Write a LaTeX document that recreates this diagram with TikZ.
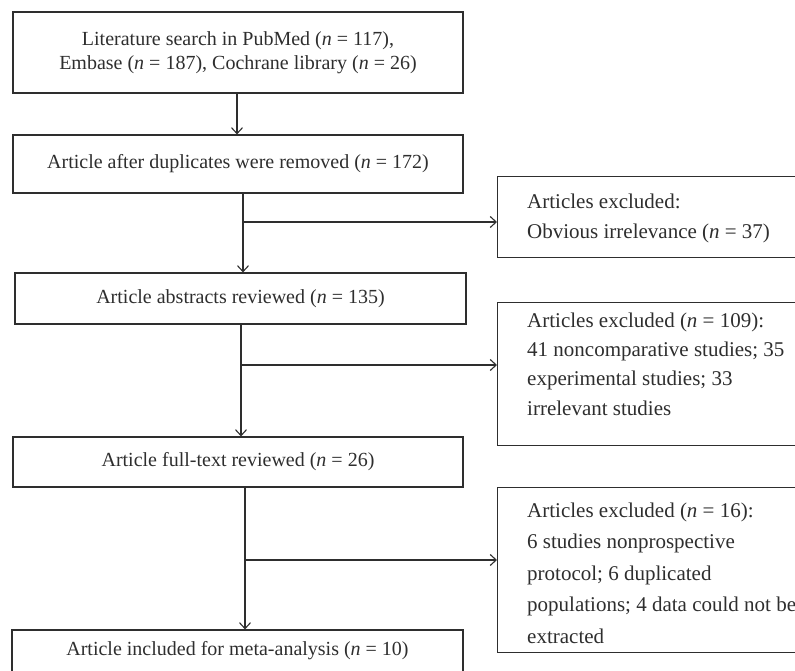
\documentclass[tikz,border=0pt]{standalone}
\usepackage{fontspec}
\setmainfont{Liberation Serif}
\usetikzlibrary{arrows.meta}
\definecolor{ink}{HTML}{2E2E2E}
\tikzset{
  every node/.style={font=\fontsize{20}{24}\selectfont, text=ink},
  box/.style={draw=ink, line width=1.1pt, inner sep=0pt, align=center, minimum width=450pt},
  exbox/.style={draw=ink, line width=1.1pt, inner sep=0pt, anchor=north west, minimum width=340pt},
  extext/.style={inner sep=0pt, anchor=base west, align=left},
  arr/.style={draw=ink, line width=1.1pt, -{Straight Barb[length=6pt,width=11pt]}},
  ln/.style={draw=ink, line width=1.1pt}
}
\newcommand{\nn}{\textit{n}}
\begin{document}
\begin{tikzpicture}[x=1pt,y=-1pt]
\useasboundingbox (0,0) rectangle (795,671);
\clip (0,0) rectangle (795,671);
% main boxes
\node[box, minimum height=81pt] (b1) at (238,52.5) {Literature search in PubMed (\nn{} = 117),\\Embase (\nn{} = 187), Cochrane library (\nn{} = 26)};
\node[box, minimum height=58pt] (b2) at (238,164) {Article after duplicates were removed (\nn{} = 172)};
\node[box, minimum height=51pt, minimum width=451pt] (b3) at (240.5,298.5) {Article abstracts reviewed (\nn{} = 135)};
\node[box, minimum height=50pt] (b4) at (238,462) {Article full-text reviewed (\nn{} = 26)};
\node[box, minimum height=42pt, minimum width=451pt] (b5) at (237.5,651) {Article included for meta-analysis (\nn{} = 10)};
% exclusion boxes
\node[exbox, minimum height=81pt] (e1) at (497,176) {};
\node[exbox, minimum height=143pt] (e2) at (497,302) {};
\node[exbox, minimum height=165pt] (e3) at (497,487) {};
% text anchored at the baseline of its last line
\node[extext, font=\fontsize{21}{30}\selectfont] (t1) at (527,238) {Articles excluded:\\Obvious irrelevance (\nn{} = 37)};
\node[extext, font=\fontsize{21}{29.3}\selectfont] (t2) at (527,415) {Articles excluded (\nn{} = 109):\\41 noncomparative studies; 35\\experimental studies; 33\\irrelevant studies};
\node[extext, font=\fontsize{21}{31.5}\selectfont] (t3) at (527,643) {Articles excluded (\nn{} = 16):\\6 studies nonprospective\\protocol; 6 duplicated\\populations; 4 data could not be\\extracted};
% connectors
\coordinate (v1) at (237,0);
\coordinate (j2) at (243,222);
\coordinate (j3) at (241,365);
\coordinate (j4) at (245,560);
\draw[arr] (b1.south -| v1) -- (b2.north -| v1);
\draw[arr] (b2.south -| j2) -- (b3.north -| j2);
\draw[arr] (j2) -- (j2 -| e1.west);
\draw[arr] (b3.south -| j3) -- (b4.north -| j3);
\draw[arr] (j3) -- (j3 -| e2.west);
\draw[arr] (b4.south -| j4) -- (b5.north -| j4);
\draw[arr] (j4) -- (j4 -| e3.west);
\end{tikzpicture}
\end{document}
